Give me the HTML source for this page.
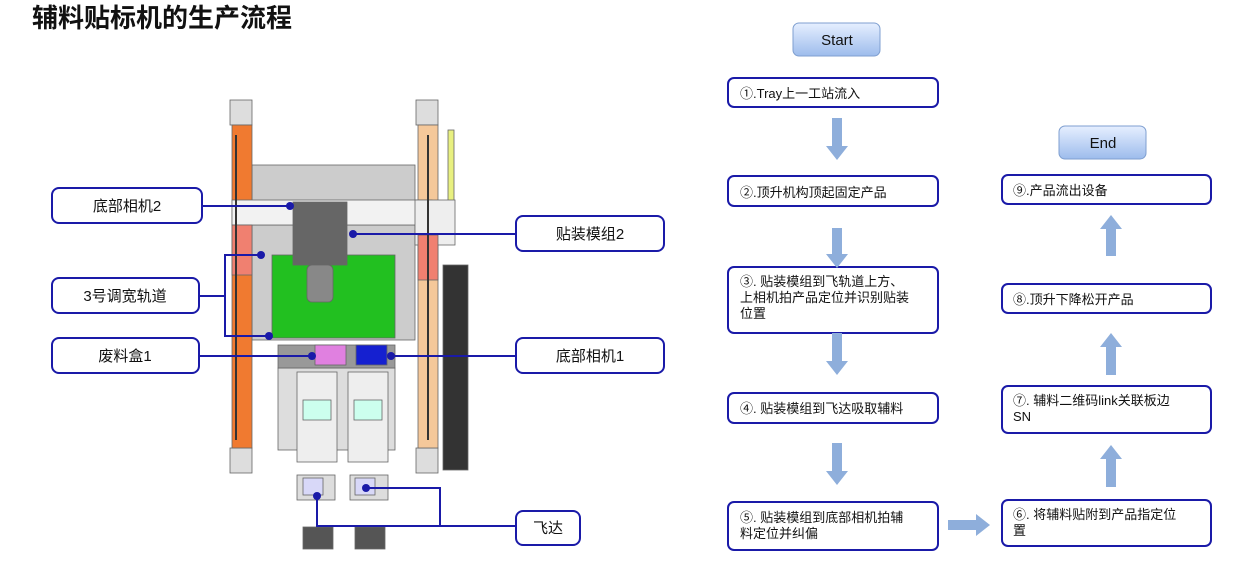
<!DOCTYPE html>
<html><head><meta charset="utf-8"><style>
body{margin:0;background:#fff;width:1251px;height:565px;overflow:hidden}
svg text{font-family:"Liberation Sans","Noto Sans CJK SC",sans-serif}
</style></head><body>
<svg width="1251" height="565" xmlns="http://www.w3.org/2000/svg">
<defs>
<linearGradient id="g" x1="0" y1="0" x2="0" y2="1"><stop offset="0" stop-color="#e6efff"/><stop offset="1" stop-color="#9dbcec"/></linearGradient>
</defs>
<text x="32" y="27" font-size="26" font-weight="bold" font-family="'Noto Serif CJK SC',serif" fill="#111">辅料贴标机的生产流程</text>

<!-- machine -->
<g stroke="#666" stroke-width="0.8">
<rect x="230" y="100" width="22" height="25" fill="#ddd"/>
<rect x="230" y="448" width="22" height="25" fill="#ddd"/>
<rect x="416" y="100" width="22" height="25" fill="#ddd"/>
<rect x="416" y="448" width="22" height="25" fill="#ddd"/>
<rect x="252" y="165" width="163" height="36" fill="#ccc"/>
<rect x="443" y="265" width="25" height="205" fill="#333"/>
<rect x="448" y="130" width="6" height="110" fill="#e8f080"/>
<rect x="278" y="368" width="117" height="82" fill="#ddd"/>
<rect x="252" y="225" width="163" height="115" fill="#ccc"/>
<rect x="272" y="255" width="123" height="83" fill="#22c020"/>
<rect x="232" y="125" width="20" height="323" fill="#f07a30"/>
<rect x="418" y="125" width="20" height="323" fill="#f5c89a"/>
<rect x="232" y="200" width="200" height="25" fill="#f2f2f2"/>
<rect x="415" y="200" width="40" height="45" fill="#eee"/>
<rect x="232" y="225" width="20" height="50" fill="#f08070"/>
<rect x="418" y="235" width="20" height="45" fill="#f08070"/>
<rect x="278" y="345" width="117" height="23" fill="#999"/>
<rect x="315" y="345" width="31" height="20" fill="#e080e0"/>
<rect x="356" y="345" width="31" height="20" fill="#1520d0"/>
<rect x="293" y="202" width="54" height="63" fill="#666"/>
<rect x="307" y="265" width="26" height="37" rx="5" fill="#888"/>
<rect x="297" y="372" width="40" height="90" fill="#eee"/>
<rect x="348" y="372" width="40" height="90" fill="#eee"/>
<rect x="303" y="400" width="28" height="20" fill="#cfe"/>
<rect x="354" y="400" width="28" height="20" fill="#cfe"/>
<rect x="297" y="475" width="38" height="25" fill="#ddd"/>
<rect x="350" y="475" width="38" height="25" fill="#ddd"/>
<rect x="303" y="478" width="20" height="17" fill="#d8d8f8"/>
<rect x="355" y="478" width="20" height="17" fill="#d8d8f8"/>
<rect x="303" y="527" width="30" height="22" fill="#555"/>
<rect x="355" y="527" width="30" height="22" fill="#555"/>
</g>
<line x1="236" y1="135" x2="236" y2="440" stroke="#333" stroke-width="2"/>
<line x1="428" y1="135" x2="428" y2="440" stroke="#333" stroke-width="2"/>

<!-- connectors -->
<g stroke="#1a1aa8" stroke-width="2" fill="none">
<polyline points="202,206 290,206"/>
<polyline points="353,234 516,234"/>
<polyline points="199,296 225,296"/>
<polyline points="261,255 225,255 225,336 269,336"/>
<polyline points="199,356 312,356"/>
<polyline points="391,356 516,356"/>
<polyline points="317,496 317,526 516,526"/>
<polyline points="366,488 440,488 440,526"/>
</g>
<g fill="#1a1aa8">
<circle cx="290" cy="206" r="4"/><circle cx="353" cy="234" r="4"/><circle cx="261" cy="255" r="4"/>
<circle cx="269" cy="336" r="4"/><circle cx="312" cy="356" r="4"/><circle cx="391" cy="356" r="4"/>
<circle cx="317" cy="496" r="4"/><circle cx="366" cy="488" r="4"/>
</g>

<g fill="#fff" stroke="#1a1aa8" stroke-width="2">
<rect x="52" y="188" width="150" height="35" rx="7"/>
<rect x="52" y="278" width="147" height="35" rx="7"/>
<rect x="52" y="338" width="147" height="35" rx="7"/>
<rect x="516" y="216" width="148" height="35" rx="7"/>
<rect x="516" y="338" width="148" height="35" rx="7"/>
<rect x="516" y="511" width="64" height="34" rx="7"/>
</g>
<g font-size="15" fill="#111" text-anchor="middle">
<text x="127" y="211">底部相机2</text>
<text x="125" y="301">3号调宽轨道</text>
<text x="125" y="361">废料盒1</text>
<text x="590" y="239">贴装模组2</text>
<text x="590" y="361">底部相机1</text>
<text x="548" y="533">飞达</text>
</g>

<!-- flow -->
<g fill="url(#g)" stroke="#7f9fd0" stroke-width="1">
<rect x="793" y="23" width="87" height="33" rx="6"/>
<rect x="1059" y="126" width="87" height="33" rx="6"/>
</g>
<g font-size="15" fill="#111" text-anchor="middle">
<text x="837" y="45">Start</text><text x="1103" y="148">End</text>
</g>
<g fill="#fff" stroke="#1a1aa8" stroke-width="2">
<rect x="728" y="78" width="210" height="29" rx="6"/>
<rect x="728" y="176" width="210" height="30" rx="6"/>
<rect x="728" y="267" width="210" height="66" rx="6"/>
<rect x="728" y="393" width="210" height="30" rx="6"/>
<rect x="728" y="502" width="210" height="48" rx="6"/>
<rect x="1002" y="175" width="209" height="29" rx="6"/>
<rect x="1002" y="284" width="209" height="29" rx="6"/>
<rect x="1002" y="386" width="209" height="47" rx="6"/>
<rect x="1002" y="500" width="209" height="46" rx="6"/>
</g>
<g font-size="13" fill="#111">
<text x="740" y="98">①.Tray上一工站流入</text>
<text x="740" y="197">②.顶升机构顶起固定产品</text>
<text x="740" y="286">③. 贴装模组到飞轨道上方、</text>
<text x="740" y="302">上相机拍产品定位并识别贴装</text>
<text x="740" y="318">位置</text>
<text x="740" y="413">④. 贴装模组到飞达吸取辅料</text>
<text x="740" y="522">⑤. 贴装模组到底部相机拍辅</text>
<text x="740" y="538">料定位并纠偏</text>
<text x="1013" y="195">⑨.产品流出设备</text>
<text x="1013" y="304">⑧.顶升下降松开产品</text>
<text x="1013" y="405">⑦. 辅料二维码link关联板边</text>
<text x="1013" y="421">SN</text>
<text x="1013" y="519">⑥. 将辅料贴附到产品指定位</text>
<text x="1013" y="535">置</text>
</g>
<g fill="#8eaedb">
<polygon points="832,118 842,118 842,146 848,146 837,160 826,146 832,146"/>
<polygon points="832,228 842,228 842,254 848,254 837,268 826,254 832,254"/>
<polygon points="832,333 842,333 842,361 848,361 837,375 826,361 832,361"/>
<polygon points="832,443 842,443 842,471 848,471 837,485 826,471 832,471"/>
<polygon points="948,520 976,520 976,514 990,525 976,536 976,530 948,530"/>
<polygon points="1106,256 1116,256 1116,229 1122,229 1111,215 1100,229 1106,229"/>
<polygon points="1106,375 1116,375 1116,347 1122,347 1111,333 1100,347 1106,347"/>
<polygon points="1106,487 1116,487 1116,459 1122,459 1111,445 1100,459 1106,459"/>
</g>
</svg>
</body></html>
